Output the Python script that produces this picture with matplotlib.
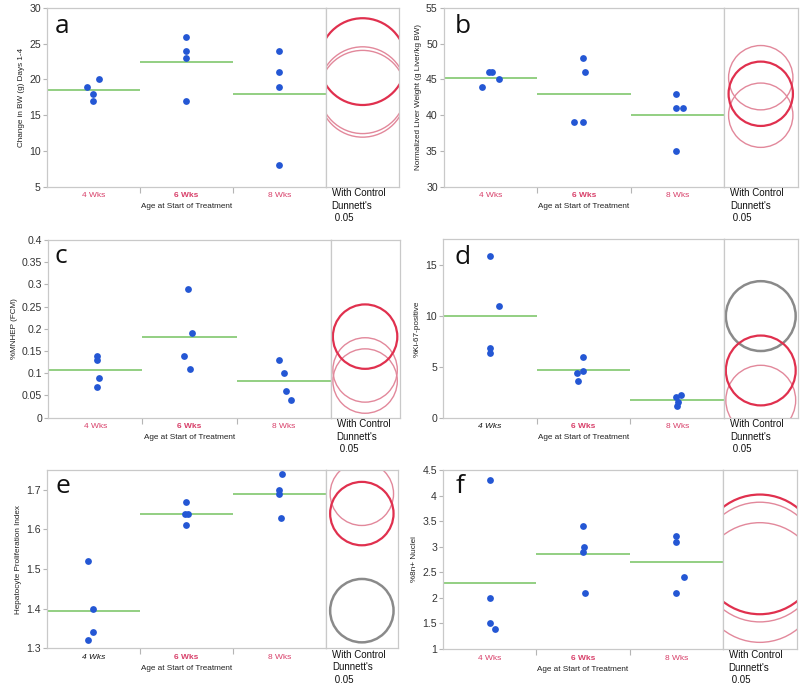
import matplotlib
matplotlib.use("Agg")
import matplotlib.pyplot as plt
import numpy as np
from matplotlib.patches import Ellipse

plt.rcParams['font.family'] = ['Liberation Sans', 'DejaVu Sans']

# ---------------- data ----------------
categories = ["4 Wks", "6 Wks", "8 Wks"]

a_vals = [[19, 18, 17, 20], [26, 24, 23, 17], [24, 21, 19, 8]]
b_vals = [[44, 46, 46, 45], [48, 46, 39, 39], [43, 41, 41, 35]]
c_vals = [[0.14, 0.13, 0.09, 0.07], [0.29, 0.19, 0.14, 0.11], [0.13, 0.10, 0.06, 0.04]]
d_vals = [[15.8, 10.9, 6.8, 6.3], [5.9, 4.6, 4.4, 3.6], [2.2, 2.05, 1.5, 1.1]]
e_vals = [[1.52, 1.40, 1.34, 1.32], [1.67, 1.64, 1.64, 1.61], [1.74, 1.70, 1.69, 1.63]]
f_vals = [[4.3, 2.0, 1.5, 1.4], [3.4, 3.0, 2.9, 2.1], [3.2, 3.1, 2.4, 2.1]]

# Dunnett comparison circle radii (data units)
a_radius = 6.07
b_radius = 4.5
c_radius = 0.0725
d_radius = 3.42
e_radius = 0.08
f_radius = 1.17

y_labels = ["Change in BW (g) Days 1-4", "Normalized Liver Weight (g Liver/kg BW)",
            "%MNHEP (FCM)", "%Ki-67-positive", "Hepatocyte Proliferation Index",
            "%8n+ Nuclei"]
x_label = "Age at Start of Treatment"

# ---------------- styles ----------------
# horizontal jitter of dots (fraction of a category width)
a_jit = [[-0.07, -0.005, -0.005, 0.06], [0, 0, 0, 0], [0, 0, 0, 0]]
b_jit = [[-0.09, -0.015, 0.015, 0.09], [-0.007, 0.014, -0.107, -0.007], [-0.014, -0.014, 0.057, -0.014]]
c_jit = [[0.018, 0.018, 0.035, 0.018], [-0.02, 0.023, -0.055, 0.005], [-0.046, 0, 0.02, 0.074]]
d_jit = [[0, 0.1, 0, 0], [-0.004, -0.004, -0.07, -0.064], [0.036, -0.014, 0.011, -0.007]]
e_jit = [[-0.06, -0.006, -0.006, -0.053], [0, -0.01, 0.015, 0], [0.032, 0, 0, 0.014]]
f_jit = [[0, 0, 0, 0.055], [0, 0.01, 0, 0.02], [0, 0, 0.08, 0]]

BLUE = "#2457d4"
GREEN = "#8acb78"
RED_SEL = "#e0304e"
RED_NS = "#e2889b"
GRAY_SIG = "#8a8a8a"
LBL_RED = "#d8406a"
FRAME = "#c9c9c9"

W, H = 800, 686
fig = plt.figure(figsize=(W / 100, H / 100), dpi=100)


def fmt(v):
    return "%g" % round(v, 4)


def panel(geom, vals, jit, ylim, yticks, ylabel, letter, letter_pos, radius, kinds, lbl_styles):
    left, bound, right, top, bottom = geom
    ax = fig.add_axes([left / W, 1 - bottom / H, (bound - left) / W, (bottom - top) / H])
    cax = fig.add_axes([bound / W, 1 - bottom / H, (right - bound) / W, (bottom - top) / H])

    for i, grp in enumerate(vals):
        xs = i + 0.5 + np.array(jit[i])
        ax.scatter(xs, grp, s=24, color=BLUE, zorder=3, linewidths=0)
        ax.hlines(np.mean(grp), i, i + 1, color=GREEN, lw=1.3, zorder=2)

    ax.set_xlim(0, 3)
    ax.set_ylim(*ylim)
    ax.set_yticks(yticks)
    ax.set_yticklabels([fmt(t) for t in yticks])
    ax.tick_params(axis='y', length=3, width=0.8, color="#b5b5b5", labelsize=7.6,
                   labelcolor="#333333", pad=1.5)
    ax.set_xticks([0.5, 1.5, 2.5])
    ax.set_xticklabels(categories)
    ax.set_xticks([1, 2], minor=True)
    ax.tick_params(axis='x', which='major', length=0, labelsize=6.0, pad=4)
    ax.tick_params(axis='x', which='minor', length=4, width=0.8, color="#b5b5b5")
    for tl, st in zip(ax.get_xticklabels(), lbl_styles):
        tl.set_color(st[0])
        tl.set_fontweight(st[1])
        tl.set_fontstyle(st[2])
    ax.set_xlabel(x_label, fontsize=5.9, labelpad=3, color="#222222")
    ax.set_ylabel(ylabel, fontsize=5.9, labelpad=3, color="#222222")
    for sp in ax.spines.values():
        sp.set_color(FRAME)
        sp.set_linewidth(0.9)

    # comparison circles
    cax.set_xlim(-1, 1)
    cax.set_ylim(*ylim)
    cax.set_xticks([])
    cax.set_yticks([])
    for sp in cax.spines.values():
        sp.set_color(FRAME)
        sp.set_linewidth(0.9)
    h_px = bottom - top
    w_px = right - bound
    r_px = radius * h_px / (ylim[1] - ylim[0])
    width = 2 * r_px * 2 / w_px
    order = sorted(range(3), key=lambda k: {"ns": 0, "sig": 1, "sel": 2}[kinds[k]])
    for k in order:
        kind = kinds[k]
        if kind == "sel":
            ec, lw = RED_SEL, 1.6
        elif kind == "sig":
            ec, lw = GRAY_SIG, 1.8
        else:
            ec, lw = RED_NS, 1.0
        e = Ellipse((0, np.mean(vals[k])), width, 2 * radius, fill=False, ec=ec, lw=lw)
        cax.add_patch(e)

    fig.text((bound + 6) / W, 1 - (bottom + 1.5) / H, "With Control\nDunnett's\n 0.05",
             fontsize=7, va='top', ha='left', linespacing=1.3, color="#111111")
    fig.text(letter_pos[0] / W, 1 - letter_pos[1] / H, letter, fontsize=19,
             family=['Open Sans', 'DejaVu Sans'], va='baseline', ha='left', color="#111111")


red_lbls = [(LBL_RED, 'normal', 'normal'), (LBL_RED, 'bold', 'normal'), (LBL_RED, 'normal', 'normal')]
mix_lbls = [("#111111", 'normal', 'italic'), (LBL_RED, 'bold', 'normal'), (LBL_RED, 'normal', 'normal')]

panel((47, 325.7, 399.5, 8, 186.7), a_vals, a_jit, (5, 30), np.arange(5, 31, 5), y_labels[0],
      "a", (55, 33), a_radius, ["ns", "sel", "ns"], red_lbls)
panel((444, 724, 797.5, 8, 186.7), b_vals, b_jit, (30, 55), np.arange(30, 56, 5), y_labels[1],
      "b", (455, 33), b_radius, ["ns", "sel", "ns"], red_lbls)
panel((48.3, 330.7, 399.5, 240, 417.7), c_vals, c_jit, (0, 0.4), np.arange(0, 0.401, 0.05), y_labels[2],
      "c", (54, 263), c_radius, ["ns", "sel", "ns"], red_lbls)
panel((443.3, 724, 797.5, 239, 417.7), d_vals, d_jit, (0, 17.5), np.arange(0, 16, 5), y_labels[3],
      "d", (455, 264), d_radius, ["sig", "sel", "ns"], mix_lbls)
panel((46.7, 326, 397.7, 470, 648.3), e_vals, e_jit, (1.3, 1.75), np.arange(1.3, 1.71, 0.1), y_labels[4],
      "e", (55, 493), e_radius, ["sig", "sel", "ns"], mix_lbls)
panel((443.3, 722.7, 797, 470, 649), f_vals, f_jit, (1, 4.5), np.arange(1, 4.51, 0.5), y_labels[5],
      "f", (456, 493), f_radius, ["ns", "sel", "ns"], red_lbls)

fig.savefig("out.png", dpi=100)
